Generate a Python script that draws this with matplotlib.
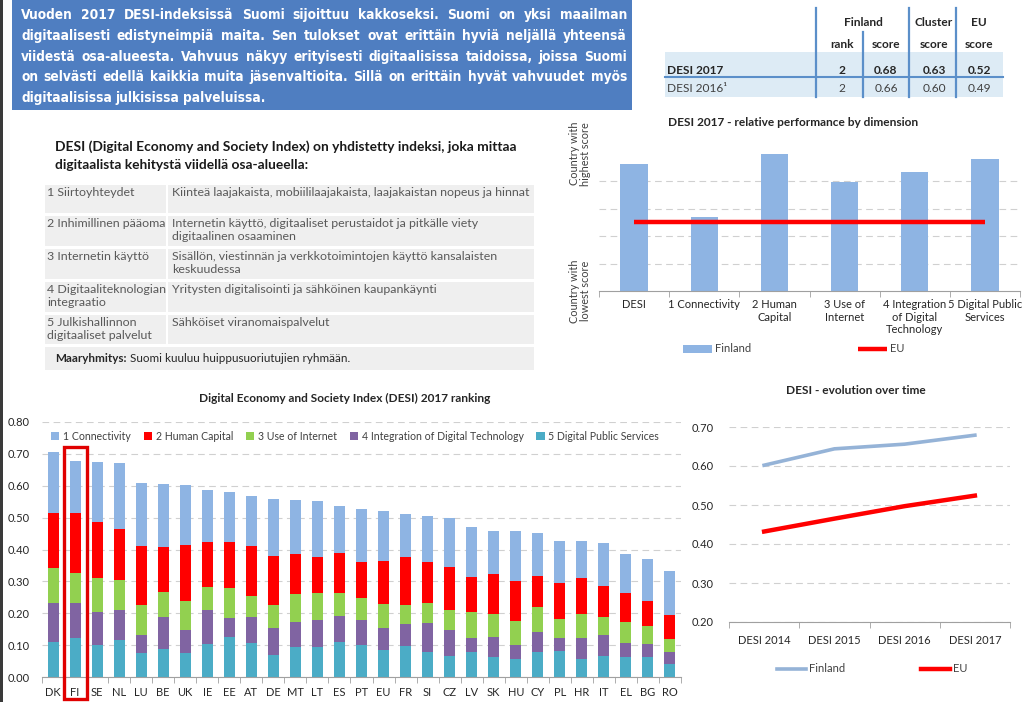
import matplotlib
matplotlib.use('Agg')
import matplotlib.pyplot as plt
from matplotlib.patches import Rectangle, Patch
from matplotlib.lines import Line2D
from matplotlib import font_manager
import numpy as np

W, H = 1024, 702
plt.rcParams['font.family'] = ['Lato', 'DejaVu Sans']

# --- data: DESI 2017 ranking (stacked dimensions) ---
countries = ['DK', 'FI', 'SE', 'NL', 'LU', 'BE', 'UK', 'IE', 'EE', 'AT', 'DE', 'MT', 'LT', 'ES', 'PT',
             'EU', 'FR', 'SI', 'CZ', 'LV', 'SK', 'HU', 'CY', 'PL', 'HR', 'IT', 'EL', 'BG', 'RO']
public_services = [0.110, 0.123, 0.099, 0.115, 0.074, 0.087, 0.075, 0.103, 0.126, 0.108, 0.068, 0.093, 0.093, 0.111, 0.099,
                   0.084, 0.097, 0.078, 0.066, 0.078, 0.064, 0.055, 0.077, 0.081, 0.057, 0.067, 0.062, 0.062, 0.041]
integration = [0.122, 0.110, 0.104, 0.094, 0.057, 0.102, 0.073, 0.108, 0.060, 0.079, 0.085, 0.078, 0.087, 0.080, 0.081,
               0.071, 0.069, 0.090, 0.080, 0.043, 0.060, 0.044, 0.065, 0.040, 0.065, 0.064, 0.046, 0.041, 0.036]
use_internet = [0.110, 0.093, 0.109, 0.095, 0.095, 0.078, 0.089, 0.072, 0.092, 0.067, 0.072, 0.088, 0.084, 0.073, 0.067,
                0.074, 0.060, 0.064, 0.064, 0.083, 0.073, 0.078, 0.078, 0.061, 0.076, 0.056, 0.064, 0.058, 0.042]
human_capital = [0.172, 0.190, 0.174, 0.161, 0.185, 0.142, 0.178, 0.142, 0.145, 0.156, 0.154, 0.126, 0.113, 0.124, 0.114,
                 0.135, 0.149, 0.129, 0.134, 0.109, 0.127, 0.123, 0.097, 0.113, 0.114, 0.099, 0.092, 0.078, 0.077]
connectivity = [0.191, 0.162, 0.188, 0.205, 0.197, 0.196, 0.186, 0.161, 0.156, 0.158, 0.179, 0.170, 0.176, 0.149, 0.167,
                0.158, 0.137, 0.144, 0.156, 0.159, 0.135, 0.158, 0.136, 0.131, 0.114, 0.134, 0.121, 0.131, 0.135]
dim_labels = ['1 Connectivity', '2 Human Capital', '3 Use of Internet',
              '4 Integration of Digital Technology', '5 Digital Public Services']

# --- data: relative performance by dimension (0 = lowest country, 5 = highest) ---
dimensions = ['DESI', '1 Connectivity', '2 Human\nCapital', '3 Use of\nInternet',
              '4 Integration\nof Digital\nTechnology', '5 Digital Public\nServices']
fi_relative = [4.62, 2.69, 5.0, 3.96, 4.33, 4.80]
eu_relative = [2.51, 2.51, 2.51, 2.51, 2.51, 2.51]

# --- data: evolution over time ---
years = ['DESI 2014', 'DESI 2015', 'DESI 2016', 'DESI 2017']
fi_desi = [0.602, 0.644, 0.656, 0.679]
eu_desi = [0.432, 0.465, 0.497, 0.524]

# --- data: summary table ---
table_rows = ['DESI 2017', 'DESI 2016\u00b9']
fi_rank = ['2', '2']
fi_score = ['0.68', '0.66']
cluster_score = ['0.63', '0.60']
eu_score = ['0.52', '0.49']

box_lines = [
    'Vuoden 2017 DESI-indeksissä Suomi sijoittuu kakkoseksi. Suomi on yksi maailman',
    'digitaalisesti edistyneimpiä maita. Sen tulokset ovat erittäin hyviä neljällä yhteensä',
    'viidestä osa-alueesta. Vahvuus näkyy erityisesti digitaalisissa taidoissa, joissa Suomi',
    'on selvästi edellä kaikkia muita jäsenvaltioita.  Sillä on erittäin hyvät vahvuudet myös',
    'digitaalisissa julkisissa palveluissa.',
]
dims_fi = [
    ('1 Siirtoyhteydet', 'Kiinteä laajakaista, mobiililaajakaista, laajakaistan nopeus ja hinnat'),
    ('2 Inhimillinen pääoma', 'Internetin käyttö, digitaaliset perustaidot ja pitkälle viety\ndigitaalinen osaaminen'),
    ('3 Internetin käyttö', 'Sisällön, viestinnän ja verkkotoimintojen käyttö kansalaisten\nkeskuudessa'),
    ('4 Digitaaliteknologian\nintegraatio', 'Yritysten digitalisointi ja sähköinen kaupankäynti'),
    ('5 Julkishallinnon\ndigitaaliset palvelut', 'Sähköiset viranomaispalvelut'),
]

C_CONN, C_HUM, C_USE, C_INT, C_DPS = '#8EB4E3', '#FF0000', '#92D050', '#8064A2', '#4BACC6'
GRID = dict(color='#D0D0D0', linestyle=(0, (6, 4)), linewidth=0.8)
TXT = '#262626'

fig = plt.figure(figsize=(W / 100, H / 100), dpi=100)
renderer = fig.canvas.get_renderer()


def fx(x):
    return x / W


def fy(y):
    return 1 - y / H


def px_axes(x0, y0, x1, y1):
    return fig.add_axes([fx(x0), fy(y1), (x1 - x0) / W, (y1 - y0) / H])


def rect(x0, y0, x1, y1, color):
    fig.patches.append(Rectangle((fx(x0), fy(y1)), (x1 - x0) / W, (y1 - y0) / H,
                                 transform=fig.transFigure, color=color, lw=0, zorder=0))


def vline(x, y0, y1, color, lw=1.5):
    fig.lines.append(Line2D([fx(x), fx(x)], [fy(y0), fy(y1)], transform=fig.transFigure, color=color, lw=lw))


def hline(y, x0, x1, color, lw=1.5):
    fig.lines.append(Line2D([fx(x0), fx(x1)], [fy(y), fy(y)], transform=fig.transFigure, color=color, lw=lw))


def pick_box_font():
    # narrow bold face, like the original Arial Narrow
    for fam, stretch in [('Liberation Sans Narrow', 'normal'), ('DejaVu Sans', 'condensed')]:
        try:
            path = font_manager.findfont(font_manager.FontProperties(family=fam, stretch=stretch, weight='bold'),
                                         fallback_to_default=False)
        except Exception:
            continue
        if stretch == 'condensed' and 'ondensed' not in path:
            continue
        return fam, stretch
    return 'Roboto', 'normal'


# left border strip
rect(0, 0, 3, H, '#3A3A3A')

# ---------------- blue text box (justified) ----------------
rect(12, 0, 632, 110, '#4F7EC1')
box_fam, box_stretch = pick_box_font()
left, right = 21, 627
probe = [fig.text(0, 0, ln, fontsize=10, fontweight='bold', family=box_fam, stretch=box_stretch)
         for ln in box_lines[:-1]]
natural = max(t.get_window_extent(renderer).width for t in probe)
for t in probe:
    t.remove()
box_size = min(11.2, 10 * (right - left) / natural * 0.985)
for i, line in enumerate(box_lines):
    words = line.split()
    texts = [fig.text(0, fy(15 + 20.8 * i), w, color='white', fontweight='bold', fontsize=box_size,
                      family=box_fam, stretch=box_stretch, va='center', ha='left') for w in words]
    widths = [t.get_window_extent(renderer).width for t in texts]
    if i < len(box_lines) - 1:
        gap = (right - left - sum(widths)) / (len(words) - 1)
    else:
        gap = box_size * 0.38
    x = left
    for t, w in zip(texts, widths):
        t.set_x(fx(x))
        x += w + gap

# ---------------- summary table (top right) ----------------
rect(665, 52, 1003, 97, '#DDEBF5')
hline(76.5, 665, 1003, '#5B8FC9', 1.5)
for xv, y0 in [(816, 8), (863, 32), (909, 8), (956, 8)]:
    vline(xv, y0, 97, '#5B8FC9', 1.6)
hdr = dict(fontsize=8.6, fontweight='bold', color=TXT, ha='center', va='center')
fig.text(fx(863), fy(23), 'Finland', **hdr)
fig.text(fx(934), fy(23), 'Cluster', **hdr)
fig.text(fx(979), fy(23), 'EU', **hdr)
for xv, s in [(842, 'rank'), (886, 'score'), (934, 'score'), (979, 'score')]:
    fig.text(fx(xv), fy(45), s, **hdr)
for r, yv in enumerate([70, 89]):
    wgt = 'bold' if r == 0 else 'normal'
    col = TXT if r == 0 else '#404040'
    fig.text(fx(667), fy(yv), table_rows[r], fontsize=8.6, fontweight=wgt, color=col, va='center')
    for xv, vals in [(842, fi_rank), (886, fi_score), (934, cluster_score), (979, eu_score)]:
        fig.text(fx(xv), fy(yv), vals[r], fontsize=8.6, fontweight=wgt, color=col, ha='center', va='center')

# ---------------- dimension definitions (middle left) ----------------
fig.text(fx(55), fy(147), 'DESI (Digital Economy and Society Index) on yhdistetty indeksi, joka mittaa',
         fontsize=9.95, fontweight='bold', color='#1A1A1A', va='center')
fig.text(fx(55), fy(165), 'digitaalista kehitystä viidellä osa-alueella:',
         fontsize=9.95, fontweight='bold', color='#1A1A1A', va='center')
row_spans = [(185, 213), (216, 246), (249, 279), (282, 312), (315, 344)]
for (y0, y1), (name, desc) in zip(row_spans, dims_fi):
    rect(45, y0, 166, y1, '#EFEFEF')
    rect(168, y0, 534, y1, '#EFEFEF')
    fig.text(fx(47), fy(y0 + 2), name, fontsize=8.9, color='#595959', va='top', linespacing=1.18)
    fig.text(fx(172), fy(y0 + 2), desc, fontsize=8.9, color='#595959', va='top', linespacing=1.18)
rect(45, 347, 534, 370, '#EFEFEF')
t_bold = fig.text(fx(55), fy(358), 'Maaryhmitys:', fontsize=8.4, fontweight='bold', color=TXT, va='center')
wb = t_bold.get_window_extent(renderer).width
fig.text(fx(55 + wb + 3), fy(358), 'Suomi kuuluu huippusuoriutujien ryhmään.', fontsize=8.4, color=TXT, va='center')

# ---------------- relative performance by dimension ----------------
ax2 = px_axes(599, 140, 1020, 291)
xr = np.arange(len(dimensions))
b_fi = ax2.bar(xr, fi_relative, width=0.39, color=C_CONN, zorder=2, label='Finland')
l_eu, = ax2.plot(xr, eu_relative, color='#FF0000', lw=3.2, zorder=3, label='EU', solid_capstyle='butt')
ax2.set_xlim(-0.5, len(dimensions) - 0.5)
ax2.set_ylim(0, 5.5)
ax2.set_yticks([0, 5])
ax2.set_yticklabels(['Country with\nlowest score', 'Country with\nhighest score'],
                    rotation=90, va='center', ha='center', fontsize=7.8, color='#404040', linespacing=1.0)
ax2.set_yticks(np.arange(1, 6), minor=True)
ax2.yaxis.grid(True, which='minor', **GRID)
ax2.tick_params(axis='y', which='both', length=0, pad=14)
ax2.set_xticks(xr)
ax2.set_xticklabels(dimensions, fontsize=8, color=TXT, linespacing=1.15, va='top')
ax2.set_xticks(np.arange(-0.5, len(dimensions)), minor=True)
ax2.tick_params(axis='x', which='major', length=0, pad=6)
ax2.tick_params(axis='x', which='minor', length=4, color='#A0A0A0')
for s in ['left', 'top', 'right']:
    ax2.spines[s].set_visible(False)
ax2.spines['bottom'].set_color('#A0A0A0')
ax2.set_axisbelow(True)
fig.text(fx(793), fy(123), 'DESI 2017 - relative performance by dimension', fontsize=8.6,
         fontweight='bold', color=TXT, ha='center', va='center')
ax2.legend([b_fi, l_eu], ['Finland', 'EU'], loc='center left', bbox_to_anchor=(fx(683), fy(349)),
           bbox_transform=fig.transFigure, ncol=2, frameon=False, handlelength=2.6, handleheight=0.75,
           columnspacing=9.6, handletextpad=0.3, fontsize=8, borderpad=0, borderaxespad=0,
           labelcolor='#404040')

# ---------------- DESI 2017 ranking (stacked) ----------------
ax3 = px_axes(42, 422, 681, 677)
xc = np.arange(len(countries))
stack = [public_services, integration, use_internet, human_capital, connectivity]
colors = [C_DPS, C_INT, C_USE, C_HUM, C_CONN]
bottom = np.zeros(len(countries))
handles = []
for vals, col, lab in zip(stack, colors, dim_labels[::-1]):
    b = ax3.bar(xc, vals, bottom=bottom, width=0.5, color=col, zorder=2, label=lab)
    handles.append(b)
    bottom += np.array(vals)
ax3.set_xlim(-0.5, len(countries) - 0.5)
ax3.set_ylim(0, 0.8)
ax3.set_yticks(np.arange(0, 0.81, 0.1))
ax3.set_yticklabels(['%.2f' % v for v in np.arange(0, 0.81, 0.1)], fontsize=8, color=TXT)
ax3.yaxis.grid(True, **GRID)
ax3.tick_params(axis='y', length=0, pad=9)
ax3.set_xticks(xc)
ax3.set_xticklabels(countries, fontsize=8, color=TXT)
ax3.set_xticks(np.arange(-0.5, len(countries)), minor=True)
ax3.tick_params(axis='x', which='major', length=0, pad=7)
ax3.tick_params(axis='x', which='minor', length=4, color='#A0A0A0')
for s in ['left', 'top', 'right']:
    ax3.spines[s].set_visible(False)
ax3.spines['bottom'].set_color('#A0A0A0')
ax3.set_axisbelow(True)
ax3.legend(handles[::-1], dim_labels, loc='center left', bbox_to_anchor=(fx(51), fy(436)),
           bbox_transform=fig.transFigure, ncol=5, frameon=False, handlelength=0.8, handleheight=0.8,
           handletextpad=0.35, columnspacing=1.2, fontsize=7.6, borderpad=0, borderaxespad=0,
           labelcolor='#404040')
# highlight Finland
fi_idx = countries.index('FI')
ax3.add_patch(Rectangle((fi_idx - 0.52, -0.068), 1.04, 0.79, fill=False, edgecolor='#E00000',
                        lw=2.4, clip_on=False, zorder=5))
fig.text(fx(345), fy(398), 'Digital Economy and Society Index (DESI) 2017 ranking', fontsize=8.6,
         fontweight='bold', color=TXT, ha='center', va='center')

# ---------------- evolution over time ----------------
ax4 = px_axes(729, 427, 1010, 622)
xy = np.arange(len(years))
ax4.plot(xy, fi_desi, color='#95B3D7', lw=2.6, label='Finland', zorder=3)
ax4.plot(xy, eu_desi, color='#FF0000', lw=3.2, label='EU', zorder=3)
ax4.set_xlim(-0.5, len(years) - 0.5)
ax4.set_ylim(0.2, 0.7)
ax4.set_yticks(np.arange(0.2, 0.71, 0.1))
ax4.set_yticklabels(['%.2f' % v for v in np.arange(0.2, 0.71, 0.1)], fontsize=8, color=TXT)
ax4.yaxis.grid(True, **GRID)
ax4.tick_params(axis='y', length=0, pad=11)
ax4.set_xticks(xy)
ax4.set_xticklabels(years, fontsize=8, color=TXT)
ax4.set_xticks(np.arange(-0.5, len(years)), minor=True)
ax4.tick_params(axis='x', which='major', length=0, pad=9)
ax4.tick_params(axis='x', which='minor', length=4, color='#A0A0A0')
for s in ['left', 'top', 'right']:
    ax4.spines[s].set_visible(False)
ax4.spines['bottom'].set_color('#A0A0A0')
ax4.set_axisbelow(True)
fig.text(fx(856), fy(390), 'DESI - evolution over time', fontsize=8.6, fontweight='bold',
         color=TXT, ha='center', va='center')
ax4.legend(loc='center left', bbox_to_anchor=(fx(777), fy(669)), bbox_transform=fig.transFigure,
           ncol=2, frameon=False, handlelength=2.6, columnspacing=6.8, handletextpad=0.3,
           fontsize=8, borderpad=0, borderaxespad=0, labelcolor='#404040')

fig.savefig('out.png', dpi=100)
